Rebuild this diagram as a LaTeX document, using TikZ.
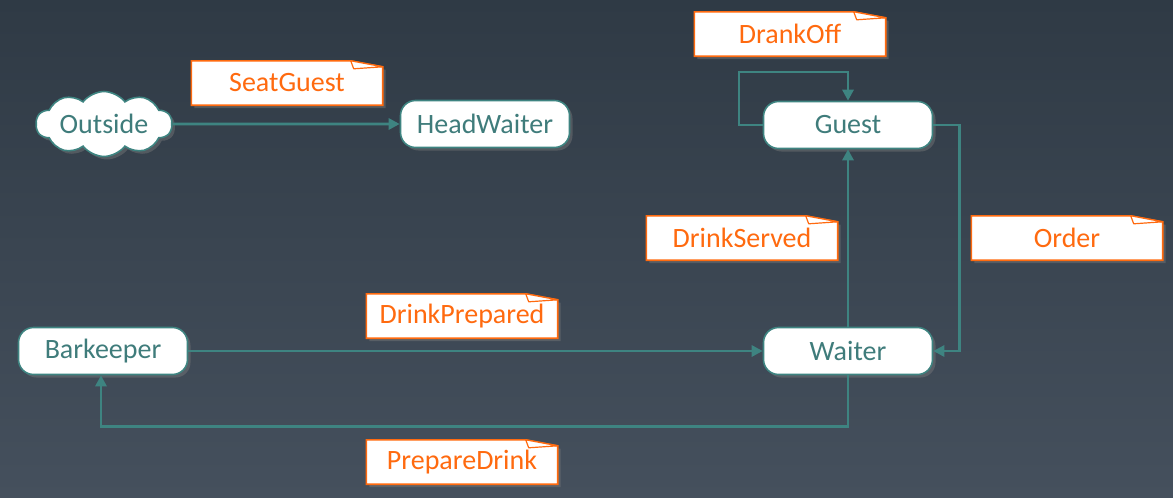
\documentclass[tikz,border=0pt]{standalone}
\usepackage{fontspec}
\setmainfont{Carlito}
\usetikzlibrary{arrows.meta,shapes.symbols,shadows}
\definecolor{bgtop}{HTML}{2F3A45}
\definecolor{bgbot}{HTML}{45505D}
\definecolor{tealline}{HTML}{3E8481}
\definecolor{tealtext}{HTML}{3F7C7B}
\definecolor{noteorange}{HTML}{FF6A0F}
\pgfdeclarelayer{back}
\pgfdeclarelayer{notes}
\pgfsetlayers{back,notes,main}
\tikzset{
  lbl/.style={font=\fontsize{28}{33}\selectfont},
  state/.style={lbl, rectangle, rounded corners=15pt, draw=tealline, line width=1.6pt, fill=white, text=tealtext, minimum width=169pt, minimum height=47pt, drop shadow={opacity=0.4, shadow xshift=3pt, shadow yshift=-3pt}},
  outside/.style={lbl, cloud, cloud puffs=10, cloud puff arc=105, aspect=2.6, draw=tealline, line width=1.6pt, fill=white, text=tealtext, minimum width=136pt, minimum height=60pt, inner sep=0pt, drop shadow={opacity=0.4, shadow xshift=3pt, shadow yshift=-3pt}},
  note/.style={lbl, minimum width=191pt, minimum height=44pt, text=noteorange},
  notebox/.style={draw=noteorange, line width=1.6pt, fill=white, drop shadow={opacity=0.4, shadow xshift=3pt, shadow yshift=-3pt}},
  noteflap/.style={draw=noteorange, line width=1.2pt, fill=white, line join=round},
  edge/.style={draw=tealline, line width=2.8pt, -{Triangle[length=11pt,width=11pt]}},
}
\begin{document}
\begin{tikzpicture}[x=1pt, y=-1pt]
		% background
		\begin{pgfonlayer}{back}
		\shade[top color=bgtop, bottom color=bgbot] (0, 0) rectangle (1173, 498);
		\end{pgfonlayer}
		\useasboundingbox (0, 0) rectangle (1173, 498);
		
		% states
		\node[outside] (out) at (104, 124) {Outside};
		\node[state] (hw) at (485, 124) {HeadWaiter};
		\node[state] (guest) at (848, 125) {Guest};
		\node[state] (waiter) at (848, 351) {Waiter};
		\node[state] (bark) at (103, 351) {Barkeeper};
		
		% labels
		\node[note] (seat) at (287, 83) {SeatGuest};
		\node[note] (drank) at (790, 34) {DrankOff};
		\node[note] (served) at (742, 238) {DrinkServed};
		\node[note] (order) at (1067, 238) {Order};
		\node[note] (prepared) at (462, 316) {DrinkPrepared};
		\node[note] (prepare) at (462, 462) {PrepareDrink};
		
		\begin{pgfonlayer}{notes}
		\foreach \n in {seat, drank, served, order, prepared, prepare} {
			\draw[notebox] (\n.south west) -- (\n.north west) -- ([xshift=-32pt]\n.north east) -- ([yshift=-6pt]\n.north east) -- (\n.south east) -- cycle;
			\draw[noteflap] ([xshift=-32pt]\n.north east) -- ([xshift=-29pt, yshift=-8pt]\n.north east) -- ([yshift=-6pt]\n.north east) -- cycle;
		}
		\end{pgfonlayer}
		
		% transitions
		\coordinate (loop) at (739, 72);
		\draw[edge] (out.east) -- (hw.west);
		\draw[edge] (guest.west) -| (loop) -| (guest.north);
		\draw[edge] (guest.east) -- ++(26, 0) |- (waiter.east);
		\draw[edge] (waiter.north) -- (guest.south);
		\draw[edge] (bark.east) -- (waiter.west);
		\draw[edge] (waiter.south) -- ++(0, 51) -| ([xshift=-2pt]bark.south);
		
\end{tikzpicture}
\end{document}
